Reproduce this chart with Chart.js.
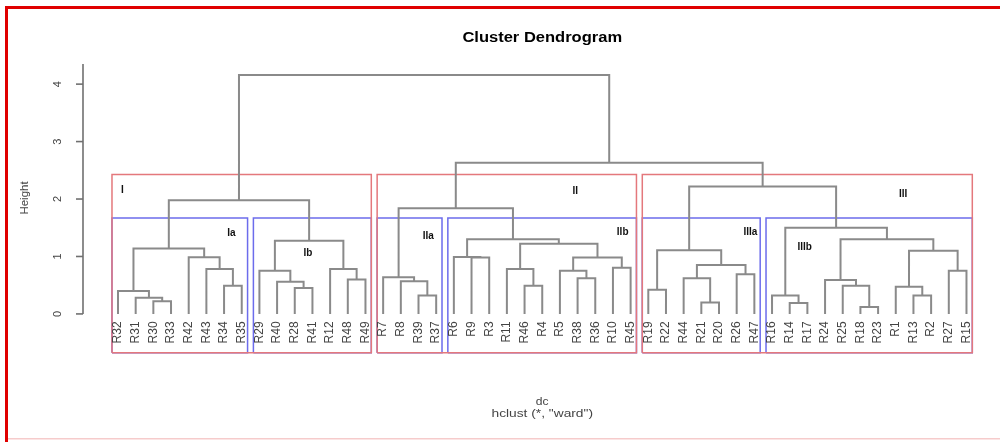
<!DOCTYPE html>
<html>
<head>
<meta charset="utf-8">
<script src="https://cdn.jsdelivr.net/npm/chart.js@4/dist/chart.umd.min.js"></script>
<style>
html,body{margin:0;padding:0;background:#fff;}
#wrap{width:1000px;height:442px;position:relative;}
canvas{display:block;}
</style>
</head>
<body>
<div id="wrap"><canvas id="c" width="1000" height="442"></canvas></div>
<script>
// ---- data ----
const leafLabels = ["R32","R31","R30","R33","R42","R43","R34","R35","R29","R40","R28","R41","R12","R48","R49",
  "R7","R8","R39","R37","R6","R9","R3","R11","R46","R4","R5","R38","R36","R10","R45",
  "R19","R22","R44","R21","R20","R26","R47","R16","R14","R17","R24","R25","R18","R23","R1","R13","R2","R27","R15"];
// merge steps: a leaf label, or the number (1-based) of an earlier step
const mergeLeft  = ["R30","R31","R32","R34","R43","R42",3,"R28","R40","R29","R48","R12",10,7,
  "R39","R8","R7","R9","R6","R46","R11","R38","R5","R10",23,21,19,17,
  "R19","R21","R44","R26",31,29,"R14","R16","R18","R25","R24","R13","R1","R27",41,39,36,34,28,14];
const mergeRight = ["R33",1,2,"R35",4,5,6,"R41",8,9,"R49",11,12,13,
  "R37",15,16,"R3",18,"R4",20,"R36",22,"R45",24,25,26,27,
  "R22","R20",30,"R47",32,33,"R17",35,"R23",37,38,"R2",40,"R15",42,43,44,45,46,47];
const mergeHeight = [0.22,0.28,0.40,0.49,0.78,0.985,1.14,0.45,0.56,0.75,0.60,0.78,1.275,1.98,
  0.32,0.57,0.64,0.98,0.99,0.49,0.78,0.62,0.75,0.805,0.98,1.22,1.30,1.84,
  0.42,0.20,0.62,0.69,0.85,1.11,0.19,0.32,0.12,0.49,0.59,0.32,0.475,0.75,1.10,1.30,1.50,2.22,2.63,4.16];
const yTicks = [0,1,2,3,4];
const groupCounts = [3,6];           // rect.hclust k values (red, blue)
const clusterNames = ["I","Ia","Ib","II","IIa","IIb","III","IIIa","IIIb"];
const clusterNameX = [1.25,7.42,11.75,26.87,18.55,29.55,45.42,36.78,39.85];
const clusterNameY = [2.15,1.40,1.05,2.13,1.35,1.42,2.08,1.42,1.16];
const titleText = "Cluster Dendrogram";
const xLabel = "dc";
const subText = 'hclust (*, "ward")';
const yLabel = "Height";

// ---- build tree ----
const nodes = [];
function getNode(ref){
  if (typeof ref === 'string'){ const p = leafLabels.indexOf(ref)+1; return {x:p,h:0,lo:p,hi:p,leaf:true}; }
  return nodes[ref-1];
}
for (let i=0;i<mergeHeight.length;i++){
  const a=getNode(mergeLeft[i]), b=getNode(mergeRight[i]);
  nodes.push({a,b,h:mergeHeight[i],x:(a.x+b.x)/2,lo:Math.min(a.lo,b.lo),hi:Math.max(a.hi,b.hi)});
}
const root = nodes[nodes.length-1];
const treePts = [];
nodes.forEach(n=>{
  treePts.push({x:n.a.x,y:n.a.h},{x:n.a.x,y:n.h},{x:n.b.x,y:n.h},{x:n.b.x,y:n.b.h},{x:n.b.x,y:null});
});
const sortedH = mergeHeight.slice().sort((p,q)=>q-p);
const yMin = -0.675, yMax = 4.42;
function boxPts(k){
  const cut = (sortedH[k-2]+sortedH[k-1])/2;
  const groups=[];
  (function walk(n){ if(n.leaf || n.h<cut) groups.push([n.lo,n.hi]); else {walk(n.a);walk(n.b);} })(root);
  const pts=[];
  groups.forEach(g=>{
    const l=g[0]-0.34, r=g[1]+0.33;
    pts.push({x:l,y:yMin},{x:l,y:cut},{x:r,y:cut},{x:r,y:yMin},{x:l,y:yMin},{x:l,y:null});
  });
  return pts;
}

const FONT = '"Liberation Sans", Arial, sans-serif';
const decor = {
  id:'decor',
  beforeDraw(chart){
    const c=chart.ctx; c.save(); c.fillStyle='#fff'; c.fillRect(0,0,chart.width,chart.height); c.restore();
  },
  afterDraw(chart){
    const c=chart.ctx, xs=chart.scales.x, ys=chart.scales.y;
    c.save();
    // y axis
    c.strokeStyle='#707070'; c.lineWidth=1.6;
    const ax=chart.chartArea.left;
    c.beginPath(); c.moveTo(ax, ys.getPixelForValue(0)); c.lineTo(ax, ys.getPixelForValue(4.35)); c.stroke();
    c.fillStyle='#444'; c.font='11px '+FONT; c.textAlign='center'; c.textBaseline='middle';
    yTicks.forEach(t=>{
      const py=ys.getPixelForValue(t);
      c.beginPath(); c.moveTo(ax,py); c.lineTo(ax-7,py); c.stroke();
      c.save(); c.translate(ax-25,py); c.rotate(-Math.PI/2); c.fillText(String(t),0,0); c.restore();
    });
    c.save(); c.translate(25,198); c.rotate(-Math.PI/2); c.font='11.5px '+FONT; c.fillText(yLabel,0,0); c.restore();
    // leaf labels
    c.font='12px '+FONT; c.fillStyle='#444'; c.textAlign='right'; c.textBaseline='middle';
    const ly = ys.getPixelForValue(0)+7.5;
    leafLabels.forEach((lab,i)=>{
      const px=xs.getPixelForValue(i+1);
      c.save(); c.translate(px,ly); c.rotate(-Math.PI/2); c.fillText(lab,0,0); c.restore();
    });
    // cluster names
    c.font='bold 10px '+FONT; c.fillStyle='#111'; c.textAlign='center'; c.textBaseline='middle';
    clusterNames.forEach((s,i)=>{ c.fillText(s, xs.getPixelForValue(clusterNameX[i]), ys.getPixelForValue(clusterNameY[i])); });
    // title
    const cx = (xs.getPixelForValue(1)+xs.getPixelForValue(leafLabels.length))/2;
    c.fillStyle='#000'; c.font='bold 14px '+FONT; c.textBaseline='alphabetic';
    c.save(); c.translate(cx,41.5); c.scale(1.18,1); c.fillText(titleText,0,0); c.restore();
    c.fillStyle='#444'; c.font='11px '+FONT;
    c.save(); c.translate(cx,405); c.scale(1.1,1); c.fillText(xLabel,0,0); c.restore();
    c.save(); c.translate(cx,417); c.scale(1.25,1); c.fillText(subText,0,0); c.restore();
    // frame
    c.fillStyle='#e00000';
    c.fillRect(5,6,995,3);
    c.fillRect(5,6,3,436);
    c.fillStyle='rgba(235,140,140,0.45)';
    c.fillRect(8,438,992,1.5);
    c.restore();
  }
};

new Chart(document.getElementById('c'), {
  type:'scatter',
  data:{ datasets:[
    {label:'tree', data:treePts, showLine:true, borderColor:'#8a8a8a', borderWidth:2, pointRadius:0, tension:0, spanGaps:false, clip:false},
    {label:'k3', data:boxPts(groupCounts[0]), showLine:true, borderColor:'#e4787c', borderWidth:1.5, pointRadius:0, tension:0, spanGaps:false, clip:false},
    {label:'k6', data:boxPts(groupCounts[1]), showLine:true, borderColor:'#6c6cec', borderWidth:1.5, pointRadius:0, tension:0, spanGaps:false, clip:false}
  ]},
  options:{
    responsive:false, animation:false, devicePixelRatio:1,
    layout:{padding:{left:83,right:1,top:60,bottom:89.3}},
    plugins:{legend:{display:false}, title:{display:false}, tooltip:{enabled:false}},
    scales:{
      x:{type:'linear', min:-0.98, max:50.84, display:false},
      y:{type:'linear', min:yMin, max:yMax, display:false}
    }
  },
  plugins:[decor]
});
</script>
</body>
</html>
